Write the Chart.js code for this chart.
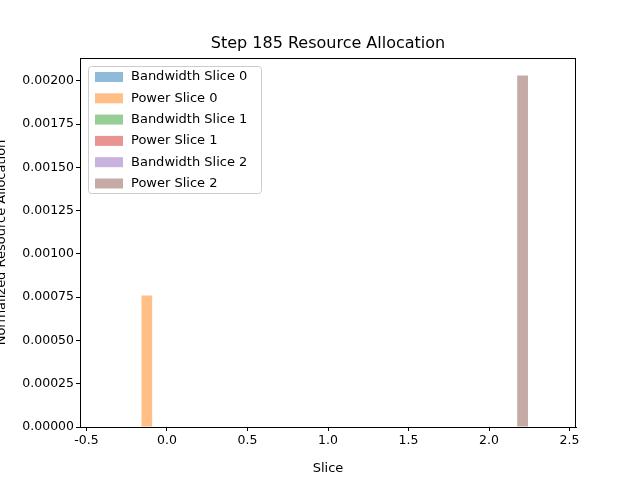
<!DOCTYPE html>
<html>
<head>
<meta charset="utf-8">
<script src="https://cdn.jsdelivr.net/npm/chart.js@4.4.0/dist/chart.umd.min.js"></script>
<style>
  html, body { margin: 0; padding: 0; background: #fff; }
  #c { display: block; }
</style>
</head>
<body>
<canvas id="c" width="640" height="480"></canvas>
<script>
'use strict';

/* ── DATA ── */
const SLICES      = [0, 1, 2];
const BANDWIDTH   = [0, 0, 0];
const POWER       = [0.00076, 0, 0.00203];
const SERIES_NAMES = ['Bandwidth Slice 0', 'Power Slice 0', 'Bandwidth Slice 1',
                      'Power Slice 1', 'Bandwidth Slice 2', 'Power Slice 2'];
const X_TICKS = [-0.5, 0, 0.5, 1, 1.5, 2, 2.5];
const Y_TICKS = [0, 0.00025, 0.0005, 0.00075, 0.001, 0.00125, 0.0015, 0.00175, 0.002];

const TAB10 = ['31,119,180', '255,127,14', '44,160,44', '214,39,40', '148,103,189', '140,86,75'];
const FONT = "'DejaVu Sans', sans-serif";

/* one dataset per slice and resource, like the original bar calls */
const datasets = [];
SLICES.forEach((s, i) => {
  [['Bandwidth', BANDWIDTH], ['Power', POWER]].forEach(([kind, arr], k) => {
    const idx = i * 2 + k;
    datasets.push({
      label: SERIES_NAMES[idx],
      data: [{ x: s, y: arr[i] }],
      backgroundColor: `rgba(${TAB10[idx]},0.5)`,
      borderWidth: 0,
      categoryPercentage: 1,
      barPercentage: 0.8
    });
  });
});

const yMax = Math.max(...POWER) * 1.05;

/* ── FRAME, TITLE AND LEGEND (matplotlib look) ── */
const mplDecor = {
  id: 'mplDecor',
  afterDraw(chart) {
    const { ctx, chartArea: a } = chart;
    ctx.save();
    ctx.strokeStyle = '#000';
    ctx.lineWidth = 1;
    ctx.strokeRect(a.left + 0.5, a.top + 0.5, a.right - a.left - 1, a.bottom - a.top);

    ctx.fillStyle = '#000';
    ctx.font = `16px ${FONT}`;
    ctx.textAlign = 'center';
    ctx.textBaseline = 'bottom';
    ctx.fillText('Step 185 Resource Allocation', (a.left + a.right) / 2, a.top - 6);

    const lx = a.left + 8, ly = a.top + 8, lw = 173, lh = 127;
    ctx.fillStyle = 'rgba(255,255,255,0.8)';
    ctx.strokeStyle = '#ccc';
    ctx.beginPath();
    ctx.roundRect(lx + 0.5, ly + 0.5, lw, lh, 3);
    ctx.fill();
    ctx.stroke();
    ctx.font = `13px ${FONT}`;
    ctx.textAlign = 'left';
    ctx.textBaseline = 'middle';
    chart.data.datasets.forEach((d, i) => {
      const y = ly + 11 + i * 21.3;
      ctx.fillStyle = d.backgroundColor;
      ctx.fillRect(lx + 7, y - 5, 28, 10);
      ctx.fillStyle = '#000';
      ctx.fillText(d.label, lx + 43, y);
    });
    ctx.restore();
  }
};

function keepTicks(list) {
  return scale => { scale.ticks = list.map(v => ({ value: v })); };
}

new Chart(document.getElementById('c'), {
  type: 'bar',
  data: { datasets },
  plugins: [mplDecor],
  options: {
    responsive: false,
    animation: false,
    layout: { padding: { top: 58, right: 64, left: 0, bottom: 0 } },
    plugins: { legend: { display: false }, title: { display: false }, tooltip: { enabled: false } },
    scales: {
      x: {
        type: 'linear',
        offset: false,
        min: -0.54, max: 2.54,
        afterBuildTicks: keepTicks(X_TICKS),
        afterFit: s => { s.height = 53; },
        grid: { drawOnChartArea: false, offset: false, tickLength: 4, color: '#000' },
        border: { color: '#000' },
        ticks: { color: '#000', font: { family: FONT, size: 12.5 }, padding: 2, maxRotation: 0,
                 callback: v => v.toFixed(1) },
        title: { display: true, text: 'Slice', color: '#000', font: { family: FONT, size: 13 }, padding: { top: 2 } }
      },
      y: {
        stacked: true,
        min: 0, max: yMax,
        afterBuildTicks: keepTicks(Y_TICKS),
        afterFit: s => { s.width = 80; },
        grid: { drawOnChartArea: false, tickLength: 4, color: '#000' },
        border: { color: '#000' },
        ticks: { color: '#000', font: { family: FONT, size: 12.5 }, padding: 2,
                 callback: v => v.toFixed(5) },
        title: { display: true, text: 'Normalized Resource Allocation', color: '#000',
                 font: { family: FONT, size: 13 }, padding: { top: -6, bottom: 0 } }
      }
    }
  }
});
</script>
</body>
</html>
